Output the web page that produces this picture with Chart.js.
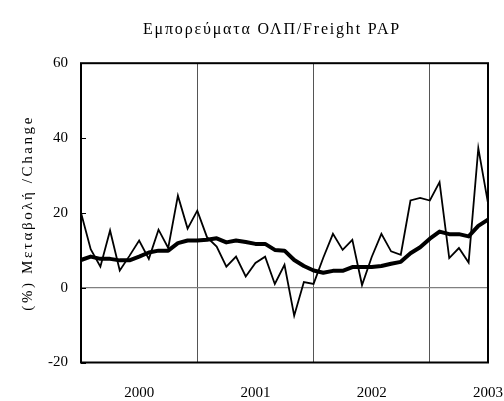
<!DOCTYPE html>
<html>
<head>
<meta charset="utf-8">
<script src="https://cdn.jsdelivr.net/npm/chart.js@4/dist/chart.umd.min.js"></script>
<style>
	html, body { margin: 0; padding: 0; background: #fff; }
	#wrap { width: 504px; height: 401px; }
</style>
</head>
<body>
<div id="wrap"><canvas id="mycanvas"></canvas></div>
<script>
// monthly, Jan 2000 - Jul 2003
var years = ['2000', '2001', '2002', '2003'];
var monthly = [20, 10.3, 5.6, 15.3, 4.6, 8.5, 12.6, 7.7, 15.5, 10.6, 24.6, 15.8,
	20.6, 13.5, 11.0, 5.6, 8.3, 3.0, 6.6, 8.3, 1.0, 6.1, -7.5, 1.5,
	1.0, 8.0, 14.4, 10.1, 12.8, 0.7, 8.2, 14.4, 9.7, 8.8, 23.3, 24.0,
	23.3, 28.2, 7.9, 10.6, 6.7, 37.3, 22.6];
var trend = [7.4, 8.3, 7.7, 7.7, 7.3, 7.3, 8.3, 9.4, 9.9, 9.9, 11.9, 12.6,
	12.6, 12.8, 13.2, 12.1, 12.6, 12.2, 11.7, 11.7, 10.1, 9.9, 7.4, 5.8,
	4.6, 4.0, 4.5, 4.5, 5.5, 5.5, 5.5, 5.8, 6.4, 6.9, 9.2, 10.8,
	13.1, 15.0, 14.3, 14.3, 13.7, 16.5, 18.2];
var yTicks = [-20, 0, 20, 40, 60];

var labels = [];
for (var i = 0; i < monthly.length; i++) {
	labels.push(years[Math.floor(i / 12)] + '-' + ((i % 12) + 1));
}

var serif = "'Liberation Serif', 'DejaVu Serif', serif";

// canvas letter spacing (and a small shift) for one draw call
function spaced(obj, fn, px, dx) {
	var orig = obj[fn];
	obj[fn] = function() {
		var ctx = this.ctx;
		ctx.save();
		ctx.letterSpacing = px;
		ctx.translate(dx || 0, 0);
		orig.apply(this, arguments);
		ctx.restore();
	};
}

var framePlugin = {
	id: 'frame',
	beforeDraw: function(chart) {
		if (!chart.titleBlock._spaced) {
			spaced(chart.titleBlock, 'draw', '1.8px', 20);
			chart.titleBlock._spaced = true;
		}
		if (!chart.scales.y._spaced) {
			spaced(chart.scales.y, 'drawTitle', '2.6px', 0);
			chart.scales.y._spaced = true;
		}
	},
	afterDatasetsDraw: function(chart) {
		var a = chart.chartArea;
		var ctx = chart.ctx;
		var y = chart.scales.y;
		ctx.save();
		ctx.strokeStyle = '#000';
		ctx.lineWidth = 1;
		yTicks.forEach(function(v) {
			var py = Math.round(y.getPixelForValue(v)) + 0.5;
			ctx.beginPath();
			ctx.moveTo(a.left, py);
			ctx.lineTo(a.left + 5, py);
			ctx.stroke();
		});
		ctx.lineWidth = 2;
		ctx.strokeRect(a.left, a.top, a.right - a.left, a.bottom - a.top);
		ctx.restore();
	}
};

var ctx = document.getElementById('mycanvas');

var chart = new Chart(ctx, {
	type: 'line',
	data: {
		labels: labels,
		datasets: [
			{
				label: 'trend',
				data: trend,
				borderColor: '#000',
				borderWidth: 4,
				pointRadius: 0,
				tension: 0,
				borderJoinStyle: 'round'
			},
			{
				label: 'monthly',
				data: monthly,
				borderColor: '#000',
				borderWidth: 1.8,
				pointRadius: 0,
				tension: 0
			}
		]
	},
	options: {
		responsive: true,
		maintainAspectRatio: false,
		animation: false,
		layout: { padding: { left: 0, right: 0, top: 0, bottom: 0 } },
		plugins: {
			legend: { display: false },
			tooltip: { enabled: false },
			title: {
				display: true,
				text: 'Εμπορεύματα ΟΛΠ/Freight PAP',
				color: '#000',
				font: { family: serif, size: 16, weight: 'normal' },
				padding: { top: 20, bottom: 24 }
			}
		},
		scales: {
			x: {
				offset: false,
				grid: {
					drawTicks: false,
					lineWidth: 1,
					color: function(c) {
						var k = c.index;
						return (k > 0 && k < monthly.length - 1 && k % 12 === 0) ? '#555' : 'rgba(0,0,0,0)';
					}
				},
				border: { display: false },
				ticks: {
					autoSkip: false,
					maxRotation: 0,
					padding: 22,
					color: '#000',
					font: { family: serif, size: 15 },
					callback: function(val, index) {
						return index % 12 === 6 ? years[Math.floor(index / 12)] : '';
					}
				},
				afterFit: function(scale) {
					scale.height = 38.5;
					scale.paddingLeft = 0;
					scale.paddingRight = 16;
				}
			},
			y: {
				min: -20,
				max: 60,
				afterBuildTicks: function(scale) {
					scale.ticks = yTicks.map(function(v) { return { value: v }; });
				},
				grid: {
					drawTicks: false,
					lineWidth: 1.3,
					color: function(c) {
						return c.tick && c.tick.value === 0 ? '#808080' : 'rgba(0,0,0,0)';
					}
				},
				border: { display: false },
				ticks: {
					padding: 13,
					color: '#000',
					font: { family: serif, size: 15 }
				},
				title: {
					display: true,
					text: '(%) Μεταβολή /Change',
					color: '#000',
					font: { family: serif, size: 15 },
					padding: { top: 19, bottom: 0 }
				},
				afterFit: function(scale) { scale.width = 81; }
			}
		}
	},
	plugins: [framePlugin]
});
</script>
</body>
</html>
